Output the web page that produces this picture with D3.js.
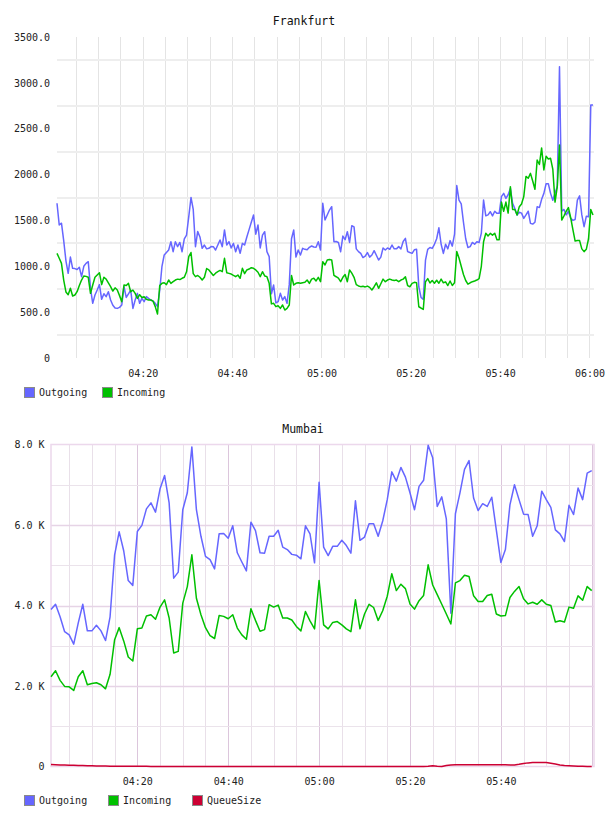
<!DOCTYPE html>
<html>
<head>
<meta charset="utf-8">
<script src="https://cdn.jsdelivr.net/npm/d3@7"></script>
<style>
  body { margin: 0; background: #fff; }
  svg text { font-family: "DejaVu Sans Mono", monospace; }
</style>
</head>
<body>
<div id="viz-container"></div>
<script>
// ---- data ----
const frankTitle = "Frankfurt";
const mumbaiTitle = "Mumbai";
const frankSeries = ["Outgoing", "Incoming"];
const mumbaiSeries = ["Outgoing", "Incoming", "QueueSize"];

// Frankfurt, one sample every 30 s from 04:00:48
const frankOutgoing = [
  1687,1450,1470,1280,1060,923,1100,978,975,965,
  990,887,1000,1032,1050,760,596,687,741,800,
  640,700,669,723,632,575,545,541,552,578,
  778,660,700,740,541,632,705,596,650,614,
  669,650,632,620,596,560,741,1000,1123,1150,
  1177,1268,1159,1268,1214,1260,1159,1300,1341,1541,
  1750,1620,1214,1380,1320,1196,1232,1190,1196,1215,
  1214,1177,1232,1287,1214,1396,1232,1268,1200,1250,
  1159,1232,1141,1250,1232,1320,1400,1480,1559,1350,
  1450,1200,1340,1377,1160,1105,700,796,600,614,
  705,632,669,596,800,1300,1396,1100,1177,1123,
  1196,1185,1180,1207,1221,1210,1207,1268,1177,1687,
  1505,1559,1613,1650,1268,1270,1260,1159,1330,1290,
  1377,1260,1443,1430,1190,1160,1140,1095,1110,1150,
  1100,1123,1170,1120,1068,1100,1200,1177,1200,1185,
  1232,1190,1190,1214,1190,1270,1304,1160,1150,1141,
  1180,1185,777,660,640,1068,1185,1205,1195,1240,
  1300,1420,1240,1140,1240,1190,1280,1220,1350,1880,
  1722,1680,1480,1300,1205,1214,1260,1240,1268,1260,
  1360,1722,1550,1560,1595,1550,1600,1577,1577,1760,
  1795,1740,1780,1849,1686,1630,1559,1590,1580,1522,
  1560,1600,1468,1460,1480,1650,1640,1730,1795,1900,
  1900,1795,1720,1800,1868,3176,1600,1620,1560,1600,
  1522,1500,1510,1722,1768,1560,1432,1545,1540,2758,
  2758
];
const frankIncoming = [
  1141,1087,1032,850,720,690,760,676,687,723,
  790,850,894,890,880,705,796,880,905,930,
  800,880,860,820,778,730,765,741,680,614,
  796,790,814,723,740,705,650,690,660,669,
  640,632,632,620,560,480,790,814,821,800,
  850,814,832,850,860,855,869,880,940,1105,
  1150,920,887,900,880,850,880,975,960,930,
  900,925,941,955,941,1087,930,923,915,900,
  887,905,869,978,920,960,970,985,978,960,
  935,887,941,895,887,814,590,596,560,570,
  541,578,523,541,578,900,796,814,820,814,
  821,825,850,814,860,869,840,880,832,1050,
  1014,1068,1075,1070,900,886,870,832,880,910,
  832,960,925,880,800,786,778,782,775,784,
  770,741,777,820,760,810,860,832,850,860,
  850,845,850,832,850,860,886,790,777,813,
  825,820,559,545,530,832,865,818,845,815,
  848,815,860,820,830,790,840,790,820,1160,
  1090,1000,910,845,805,820,832,840,850,865,
  1000,1268,1360,1330,1359,1340,1360,1290,1290,1700,
  1600,1700,1580,1868,1620,1620,1559,1650,1680,1760,
  1980,1960,2013,1930,1840,2159,2110,2290,2050,2200,
  2170,2177,2060,1700,1868,2322,1504,1550,1600,1640,
  1530,1400,1275,1280,1280,1190,1160,1185,1300,1620,
  1560
];

// Mumbai, one sample per minute from 04:01
const mumbaiOutgoing = [
  3900,4030,3720,3350,3270,3040,3570,4030,3370,3370,
  3510,3370,3130,3720,5260,5830,5360,4620,4500,5840,
  5990,6400,6550,6320,6900,7230,6550,4680,4830,6380,
  6800,7940,6380,5720,5220,5140,4910,5780,5790,5670,
  5980,5310,5080,4860,6070,5860,5310,5300,5720,5720,
  5870,5450,5390,5270,5250,5160,5980,5780,5060,7060,
  5450,5240,5470,5470,5620,5490,5300,6600,5620,5700,
  6030,6030,5720,6100,6630,7320,7090,7430,7190,6800,
  6380,6960,7110,7980,7670,6460,6700,6150,3810,6280,
  6800,7380,7600,6670,6360,6530,6460,6690,5880,5070,
  5390,6500,7000,6630,6270,6260,5720,5980,6840,6630,
  6440,5880,5780,5590,6490,6260,6920,6630,7290,7350
];
const mumbaiIncoming = [
  2230,2380,2140,1990,1980,1890,2230,2380,2030,2060,
  2080,2030,1930,2290,3150,3450,3120,2720,2620,3420,
  3440,3740,3770,3660,3960,4140,3690,2820,2860,4060,
  4470,5260,4180,3770,3450,3250,3180,3750,3730,3670,
  3770,3440,3270,3160,3920,3630,3360,3400,4020,3960,
  4010,3690,3690,3640,3480,3370,3850,3620,3420,4620,
  3520,3420,3580,3600,3520,3420,3350,4140,3420,3790,
  4030,3950,3630,3870,4230,4790,4370,4530,4420,4040,
  3910,4120,4250,5010,4510,4270,4030,3790,3540,4560,
  4620,4750,4720,4240,4100,4100,4250,4280,3790,3740,
  3750,4200,4350,4470,4170,4040,4080,4030,4140,4030,
  4000,3590,3620,3590,3960,3930,4240,4130,4470,4370
];
const mumbaiQueueSize = [
  50,45,40,36,32,28,25,22,19,16,
  14,12,10,9,8,7,6,5,5,4,
  4,4,3,3,3,3,2,2,2,2,
  2,2,1,1,1,1,1,1,1,1,
  0,0,0,0,0,0,0,0,0,0,
  0,0,0,0,0,0,0,0,0,0,
  0,0,0,0,0,0,0,0,0,0,
  0,0,0,0,0,0,0,0,0,0,
  0,0,0,5,20,8,0,25,40,45,
  45,45,44,44,43,43,42,42,42,41,
  41,40,40,55,75,90,100,100,100,98,
  80,60,40,25,18,12,8,5,3,2
];

const frankYTicks = [0, 500, 1000, 1500, 2000, 2500, 3000, 3500];
const frankYLabels = ["0", "500.0", "1000.0", "1500.0", "2000.0", "2500.0", "3000.0", "3500.0"];
const frankXLabels = ["04:20", "04:40", "05:00", "05:20", "05:40", "06:00"];
const mumbaiYTicks = [0, 2000, 4000, 6000, 8000];
const mumbaiYLabels = ["0", "2.0 K", "4.0 K", "6.0 K", "8.0 K"];
const mumbaiXLabels = ["04:20", "04:40", "05:00", "05:20", "05:40"];

// ---- drawing ----
const colors = {Outgoing: "#6666ff", Incoming: "#00c000", QueueSize: "#cc0033"};
const parseClock = d3.timeParse("%Y-%m-%d %H:%M:%S");
const clock = s => parseClock("2013-01-01 " + s);

const frankTimes = frankOutgoing.map((_, i) => d3.timeSecond.offset(clock("04:00:48"), i * 30));
const mumbaiTimes = mumbaiOutgoing.map((_, i) => d3.timeMinute.offset(clock("04:01:00"), i));

const width = 608;
const height = 816;

const svg = d3.select("#viz-container")
  .append("svg")
  .attr("width", width)
  .attr("height", height)
  .style("background", "#fff");

function styleAxis(g) {
  g.select(".domain").remove();
  g.attr("font-family", "DejaVu Sans Mono").attr("font-size", 10);
  g.selectAll("text").attr("fill", "#222");
}

function drawLegend(names, xs, y0) {
  names.forEach((name, i) => {
    svg.append("rect")
      .attr("x", xs[i] + 0.5).attr("y", y0 + 0.5)
      .attr("width", 10).attr("height", 10)
      .attr("fill", colors[name]).attr("stroke", "#8a8a8a");
    svg.append("text")
      .attr("x", xs[i] + 15).attr("y", y0 + 8.5)
      .attr("font-size", 10).attr("fill", "#222")
      .text(name);
  });
}

// ---------- Frankfurt ----------
{
  const left = 57, right = 593, top = 37, bottom = 358;
  const x = d3.scaleTime()
    .domain([frankTimes[0], frankTimes[frankTimes.length - 1]])
    .range([left, right]);
  const y = d3.scaleLinear().domain([0, 3500]).range([bottom, top]);

  svg.append("text")
    .attr("x", 304).attr("y", 25).attr("text-anchor", "middle")
    .attr("font-size", 11.5).attr("fill", "#111")
    .text(frankTitle);

  // grid
  svg.append("g").selectAll("line")
    .data(x.ticks(d3.timeMinute.every(5)))
    .join("line")
    .attr("x1", d => Math.round(x(d)) + 0.5).attr("x2", d => Math.round(x(d)) + 0.5)
    .attr("y1", top).attr("y2", bottom)
    .attr("stroke", "#e4e4e4");
  svg.append("g").selectAll("line")
    .data(d3.range(250, 3500, 500))
    .join("line")
    .attr("x1", left).attr("x2", right + 1)
    .attr("y1", d => Math.round(y(d))).attr("y2", d => Math.round(y(d)))
    .attr("stroke", "#eeeeee").attr("stroke-width", 2);

  // axes
  svg.append("g")
    .attr("transform", `translate(0,${bottom})`)
    .call(d3.axisBottom(x)
      .tickValues(frankXLabels.map(s => clock(s + ":00")))
      .tickFormat((d, i) => frankXLabels[i])
      .tickSize(0).tickPadding(12))
    .call(styleAxis);
  svg.append("g")
    .attr("transform", `translate(${left},0)`)
    .call(d3.axisLeft(y)
      .tickValues(frankYTicks)
      .tickFormat((d, i) => frankYLabels[i])
      .tickSize(0).tickPadding(7))
    .call(styleAxis);

  const line = d3.line().x((d, i) => x(frankTimes[i])).y(d => y(d));
  [["Outgoing", frankOutgoing], ["Incoming", frankIncoming]].forEach(([name, vals]) => {
    svg.append("path")
      .datum(vals)
      .attr("d", line)
      .attr("fill", "none")
      .attr("stroke", colors[name])
      .attr("stroke-width", 1.5)
      .attr("stroke-linejoin", "round");
  });

  drawLegend(frankSeries, [24, 102], 387);
}

// ---------- Mumbai ----------
{
  const left = 51, right = 594, top = 444.5, bottom = 766.5;
  const x = d3.scaleTime()
    .domain([mumbaiTimes[0], d3.timeSecond.offset(mumbaiTimes[mumbaiTimes.length - 1], 30)])
    .range([left, right]);
  const y = d3.scaleLinear().domain([0, 8000]).range([bottom, top]);

  svg.append("text")
    .attr("x", 303).attr("y", 433).attr("text-anchor", "middle")
    .attr("font-size", 11.5).attr("fill", "#111")
    .text(mumbaiTitle);

  const fiveMin = x.ticks(d3.timeMinute.every(5));
  svg.append("g").selectAll("line")
    .data(fiveMin)
    .join("line")
    .attr("x1", d => Math.round(x(d)) + 0.5).attr("x2", d => Math.round(x(d)) + 0.5)
    .attr("y1", top).attr("y2", bottom)
    .attr("stroke", d => d.getMinutes() % 20 === 0 ? "#dcc6dc" : "#e9e0e9");
  svg.append("g").selectAll("line")
    .data(d3.range(1000, 8000, 1000))
    .join("line")
    .attr("x1", left).attr("x2", right)
    .attr("y1", d => Math.round(y(d)) + 0.5).attr("y2", d => Math.round(y(d)) + 0.5)
    .attr("stroke", d => d % 2000 === 0 ? "#e6d4e6" : "#ebe3eb")
    .attr("stroke-width", d => d % 2000 === 0 ? 1.5 : 1);
  svg.append("rect")
    .attr("x", left).attr("y", top)
    .attr("width", right - left).attr("height", bottom - top)
    .attr("fill", "none").attr("stroke", "#ecd8ec").attr("stroke-width", 1.5);

  svg.append("g")
    .attr("transform", `translate(0,${bottom})`)
    .call(d3.axisBottom(x)
      .tickValues(mumbaiXLabels.map(s => clock(s + ":00")))
      .tickFormat((d, i) => mumbaiXLabels[i])
      .tickSize(0).tickPadding(11.5))
    .call(styleAxis);
  svg.append("g")
    .attr("transform", `translate(${left},0)`)
    .call(d3.axisLeft(y)
      .tickValues(mumbaiYTicks)
      .tickFormat((d, i) => mumbaiYLabels[i])
      .tickSize(0).tickPadding(6.5))
    .call(styleAxis);

  const line = d3.line().x((d, i) => x(mumbaiTimes[i])).y(d => y(d));
  [["Outgoing", mumbaiOutgoing], ["Incoming", mumbaiIncoming], ["QueueSize", mumbaiQueueSize]]
    .forEach(([name, vals]) => {
      svg.append("path")
        .datum(vals)
        .attr("d", line)
        .attr("fill", "none")
        .attr("stroke", colors[name])
        .attr("stroke-width", 1.5)
        .attr("stroke-linejoin", "round");
    });

  drawLegend(mumbaiSeries, [24, 108, 192], 795);
}
</script>
</body>
</html>
